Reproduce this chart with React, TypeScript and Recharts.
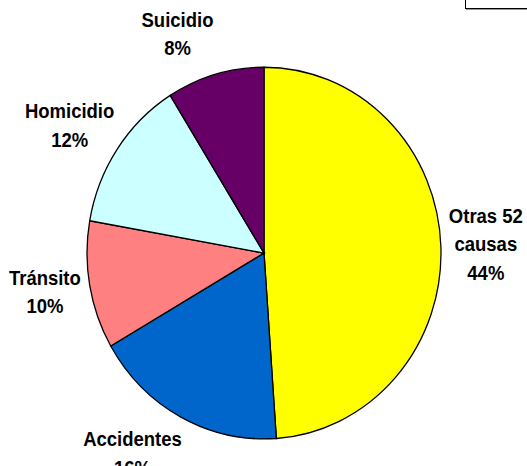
import { PieChart, Pie, Cell } from 'recharts';

const categories = ['Otras 52\ncausas', 'Accidentes', 'Tránsito', 'Homicidio', 'Suicidio'];
const values = [44, 16, 10, 12, 8];
const colors = ['#FFFF00', '#0066CC', '#FF8080', '#CCFFFF', '#660066'];

const data = categories.map((name, i) => ({ name, value: values[i] }));

const RAD = Math.PI / 180;
// the original picture is slightly stretched vertically
const STRETCH = 1.05;
const LINE = 27;

function renderLabel(props: any) {
  const { cx, cy, midAngle, outerRadius, index } = props;
  const lines = [...categories[index].split('\n'), `${values[index]}%`];
  const dx = Math.cos(-midAngle * RAD);
  const dy = Math.sin(-midAngle * RAD);
  const r = outerRadius + 10;
  const px = cx + r * dx;
  const py = cy + r * dy;
  const w = Math.max(...lines.map((l) => l.length)) * 9.2;
  const h = lines.length * LINE;
  const x = px + Math.sign(dx) * (w / 2) * 0.95;
  const y = py + dy * (h / 2) * 1.1;
  return (
    <text
      key={`l-${index}`}
      x={x}
      y={y}
      textAnchor="middle"
      fill="#000"
      style={{ fontFamily: '"Liberation Sans", Arial, sans-serif', fontWeight: 'bold', fontSize: 18.5 }}
    >
      {lines.map((line, i) => (
        <tspan key={i} x={x} y={y - ((lines.length - 1) * LINE) / 2 + i * LINE} dominantBaseline="central">
          {line}
        </tspan>
      ))}
    </text>
  );
}

export default function App() {
  return (
    <div style={{ position: 'absolute', left: 0, top: 0, width: 527, height: 466, background: '#fff', overflow: 'hidden' }}>
      <div style={{ transform: `scale(1, ${STRETCH})`, transformOrigin: '0 0' }}>
        <PieChart width={527} height={444} margin={{ top: 0, right: 0, bottom: 0, left: 0 }}>
          <Pie
            data={data}
            dataKey="value"
            cx={264}
            cy={241}
            outerRadius={177}
            startAngle={90}
            endAngle={-270}
            stroke="#000"
            strokeWidth={1.3}
            label={renderLabel}
            labelLine={false}
            isAnimationActive={false}
          >
            {data.map((d, i) => (
              <Cell key={d.name} fill={colors[i]} />
            ))}
          </Pie>
        </PieChart>
      </div>
      <div
        style={{
          position: 'absolute',
          left: 465,
          top: -10,
          width: 80,
          height: 17,
          border: '1.5px solid #000',
          boxShadow: '1px 1px 0 #999',
          background: '#fff',
        }}
      />
    </div>
  );
}
